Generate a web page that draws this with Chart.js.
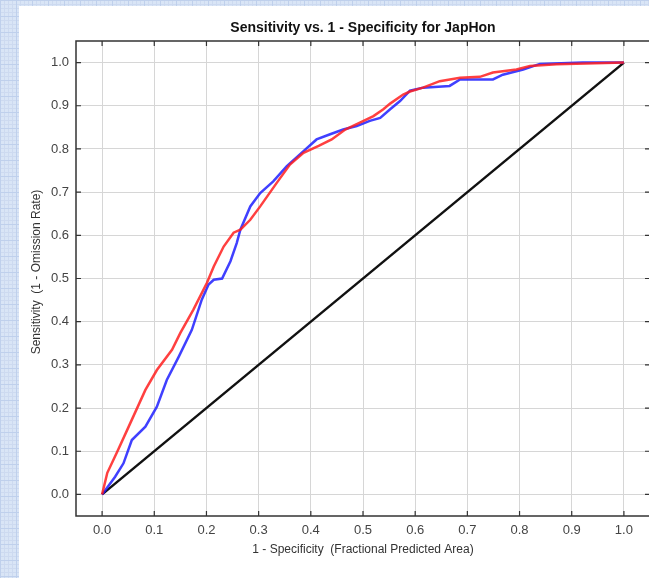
<!DOCTYPE html>
<html>
<head>
<meta charset="utf-8">
<script src="https://cdn.jsdelivr.net/npm/chart.js@4.4.1/dist/chart.umd.min.js"></script>
<style>
  html, body { margin: 0; padding: 0; width: 649px; height: 578px; overflow: hidden; }
  body {
    background-color: #d9e5f6;
    background-image:
      linear-gradient(#bfd0ec 1px, transparent 1px),
      linear-gradient(90deg, #bfd0ec 1px, transparent 1px),
      linear-gradient(#cddaf0 1px, transparent 1px),
      linear-gradient(90deg, #cddaf0 1px, transparent 1px);
    background-size: 16px 16px, 16px 16px, 4px 4px, 4px 4px;
    position: relative;
  }
  #panel { position: absolute; left: 19px; top: 6px; width: 700px; height: 600px; background: #fff; }
  #wrap { position: absolute; left: 0; top: 0; width: 680px; height: 578px; }
</style>
</head>
<body>
<div id="panel"></div>
<div id="wrap"><canvas id="roc" width="680" height="578"></canvas></div>
<script>
// tick values on both axes
const tickValues = [0, 0.1, 0.2, 0.3, 0.4, 0.5, 0.6, 0.7, 0.8, 0.9, 1.0];

// 1 - specificity (x) and sensitivity (y)
const redX = [0, 0.010, 0.029, 0.051, 0.083, 0.105, 0.134, 0.150, 0.175, 0.201, 0.214, 0.233, 0.252, 0.265,
  0.284, 0.303, 0.335, 0.360, 0.386, 0.415, 0.440, 0.466, 0.494, 0.520, 0.539, 0.552, 0.577, 0.590, 0.615,
  0.647, 0.686, 0.724, 0.749, 0.794, 0.820, 0.871, 0.928, 1.0];
const redY = [0, 0.050, 0.099, 0.157, 0.242, 0.288, 0.335, 0.374, 0.428, 0.490, 0.528, 0.574, 0.606, 0.613,
  0.636, 0.667, 0.722, 0.764, 0.791, 0.807, 0.822, 0.845, 0.861, 0.876, 0.892, 0.905, 0.926, 0.933, 0.942,
  0.957, 0.965, 0.967, 0.977, 0.984, 0.992, 0.996, 0.998, 1.0];

const blueX = [0, 0.025, 0.041, 0.057, 0.083, 0.105, 0.124, 0.147, 0.172, 0.191, 0.204, 0.214, 0.230, 0.246,
  0.258, 0.265, 0.284, 0.303, 0.328, 0.354, 0.386, 0.411, 0.437, 0.462, 0.488, 0.513, 0.533, 0.552, 0.571,
  0.590, 0.615, 0.666, 0.686, 0.749, 0.768, 0.807, 0.839, 0.921, 1.0];
const blueY = [0, 0.041, 0.072, 0.126, 0.157, 0.203, 0.265, 0.319, 0.381, 0.451, 0.486, 0.497, 0.500, 0.540,
  0.582, 0.613, 0.667, 0.698, 0.725, 0.760, 0.795, 0.822, 0.834, 0.845, 0.853, 0.865, 0.872, 0.892, 0.911,
  0.935, 0.942, 0.946, 0.961, 0.961, 0.972, 0.984, 0.997, 1.0, 1.0];

const diagX = [0, 1];
const diagY = [0, 1];

const toPoints = (xs, ys) => xs.map((x, i) => ({ x: x, y: ys[i] }));

const FONT = '"Liberation Sans", Arial, sans-serif';

// frame, inward ticks and titles
const framePlugin = {
  id: 'frame',
  afterDraw(chart) {
    const c = chart.ctx;
    const a = chart.chartArea;
    const sx = chart.scales.x, sy = chart.scales.y;
    c.save();
    c.strokeStyle = '#333';
    c.lineWidth = 1.5;
    c.strokeRect(a.left, a.top, a.right - a.left, a.bottom - a.top);
    c.lineWidth = 1.2;
    c.beginPath();
    tickValues.forEach(v => {
      const px = sx.getPixelForValue(v);
      c.moveTo(px, a.bottom); c.lineTo(px, a.bottom - 5);
      c.moveTo(px, a.top); c.lineTo(px, a.top + 5);
      const py = sy.getPixelForValue(v);
      c.moveTo(a.left, py); c.lineTo(a.left + 5, py);
      c.moveTo(a.right, py); c.lineTo(a.right - 5, py);
    });
    c.stroke();

    const cx = (a.left + a.right) / 2;
    c.fillStyle = '#111';
    c.textAlign = 'center';
    c.textBaseline = 'middle';
    c.font = 'bold 14px ' + FONT;
    c.fillText('Sensitivity vs. 1 - Specificity for JapHon', cx, 28);
    c.fillStyle = '#333';
    c.font = '12px ' + FONT;
    c.fillText('1 - Specificity  (Fractional Predicted Area)', cx, 550);
    c.translate(37, 272);
    c.rotate(-Math.PI / 2);
    c.fillText('Sensitivity  (1 - Omission Rate)', 0, 0);
    c.restore();
  }
};

const axisCommon = {
  type: 'linear',
  min: -0.05,
  max: 1.05,
  afterBuildTicks: s => { s.ticks = tickValues.map(v => ({ value: v })); },
  grid: { color: '#d6d6d6', lineWidth: 1, drawTicks: false },
  border: { display: false },
  ticks: {
    autoSkip: false,
    maxRotation: 0,
    color: '#444',
    font: { family: FONT, size: 13 },
    callback: v => v.toFixed(1)
  }
};

new Chart(document.getElementById('roc'), {
  type: 'line',
  data: {
    datasets: [
      { data: toPoints(redX, redY), borderColor: 'rgba(255,30,30,0.85)', borderWidth: 2.5, order: 1 },
      { data: toPoints(blueX, blueY), borderColor: 'rgba(30,30,255,0.85)', borderWidth: 2.5, order: 2 },
      { data: toPoints(diagX, diagY), borderColor: '#111', borderWidth: 2.5, order: 3 }
    ]
  },
  options: {
    responsive: false,
    animation: false,
    layout: { padding: { top: 41, right: 30, left: 0, bottom: 0 } },
    elements: { point: { radius: 0 }, line: { tension: 0 } },
    plugins: { legend: { display: false }, tooltip: { enabled: false }, title: { display: false } },
    scales: {
      x: Object.assign({}, axisCommon, {
        afterFit: s => { s.height = 62; },
        ticks: Object.assign({}, axisCommon.ticks, { padding: 7 })
      }),
      y: Object.assign({}, axisCommon, {
        afterFit: s => { s.width = 76; },
        ticks: Object.assign({}, axisCommon.ticks, { padding: 7 })
      })
    }
  },
  plugins: [framePlugin]
});
</script>
</body>
</html>
